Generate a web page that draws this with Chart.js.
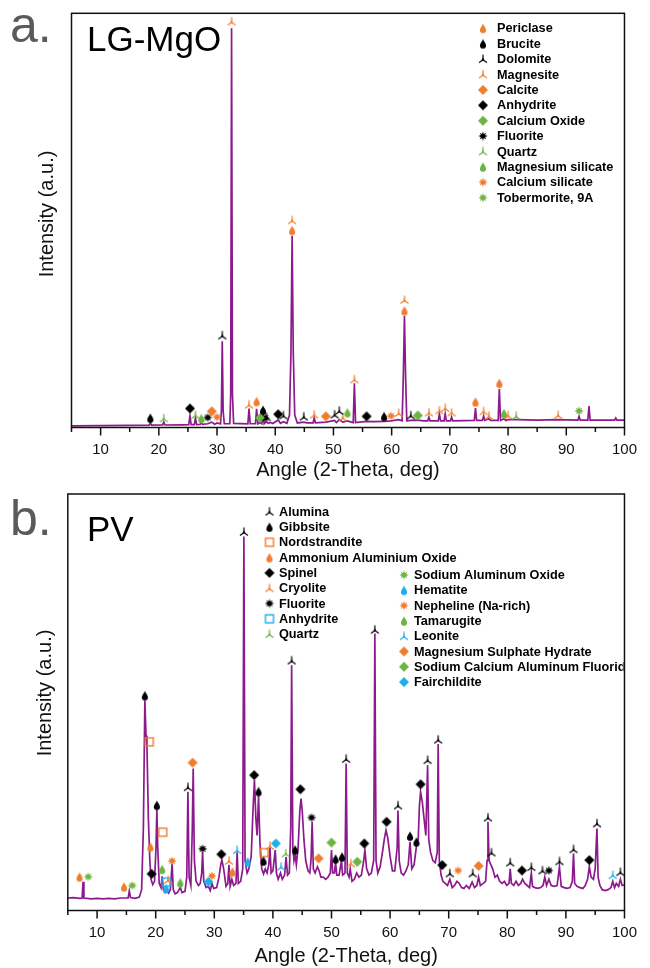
<!DOCTYPE html>
<html>
<head>
<meta charset="utf-8">
<script src="https://cdn.jsdelivr.net/npm/chart.js"></script>
<style>
html, body { margin: 0; padding: 0; background: #fff; }
canvas { display: block; }
</style>
</head>
<body>
<canvas id="chartA" width="650" height="484"></canvas>
<canvas id="chartB" width="650" height="484"></canvas>
<script>
// x axis ticks (2-theta)
var xTicks = [10, 20, 30, 40, 50, 60, 70, 80, 90, 100];

// ---- a. LG-MgO trace [angle, intensity]
var traceA = [
  [5,0.4],[10,0.45],[15,0.5],[18.35,0.55],[18.55,1.1],[18.75,0.55],[20.65,0.6],[20.85,1.3],[21.05,0.6],[24,0.65],
  [25.15,0.7],[25.35,2.8],[25.55,0.7],[26.1,0.7],[26.3,2.3],[26.5,0.7],[27.1,0.75],[27.3,1.2],[27.5,0.75],[28.4,0.9],
  [29.1,1.3],[29.6,0.8],[30.0,1.1],[30.6,0.85],[30.75,4],[30.9,20.8],[31.05,4],[31.25,0.9],[32.2,0.9],[32.35,8],
  [32.5,96.4],[32.65,8],[32.85,1.0],[35.3,0.9],[35.5,4.6],[35.7,0.9],[36.6,0.9],[36.8,4.5],[37.0,0.9],[37.4,1.2],
  [37.7,0.9],[37.9,3.1],[38.1,0.9],[38.5,1.4],[38.8,1.0],[39.2,1.2],[39.6,0.95],[40.5,1.8],[40.9,1.0],[41.4,1.4],
  [42.0,1.0],[42.45,3],[42.7,18],[42.9,46.3],[43.1,18],[43.35,3],[43.8,1.1],[44.9,1.3],[45.5,1.1],[46.5,1.1],
  [46.7,2.3],[46.9,1.1],[48.7,1.3],[50.2,1.7],[50.5,1.2],[51.0,1.9],[51.6,1.3],[52.4,1.6],[53.4,1.2],[53.6,10.7],
  [53.8,1.2],[55.7,1.5],[57,1.4],[58.7,1.5],[59.9,1.6],[61.2,1.9],[61.8,1.6],[62.0,12],[62.2,26.9],[62.4,12],
  [62.6,1.6],[63.3,1.7],[64.5,1.8],[65.5,1.6],[66.2,1.6],[66.4,2.5],[66.6,1.6],[68.0,1.6],[68.2,3.3],[68.4,1.6],
  [69.0,1.6],[69.2,3.3],[69.4,1.6],[70.1,1.6],[70.3,2.5],[70.5,1.6],[74.2,1.7],[74.4,4.7],[74.6,1.7],[75.6,1.7],
  [75.8,2.8],[76.0,1.7],[76.7,2.1],[77.0,1.7],[78.3,1.7],[78.5,9.3],[78.7,1.7],[79.3,2.1],[79.6,1.7],[80.0,1.9],
  [81.4,1.9],[85,1.8],[88.6,1.9],[92.0,1.8],[92.2,2.7],[92.4,1.8],[93.7,1.8],[93.9,5.2],[94.1,1.8],[98.3,1.8],
  [98.5,2.3],[98.7,1.8],[100,1.8]
];

// ---- a. phase markers [angle, intensity]
var periclaseA = [[36.8,6.3],[42.9,47.6],[62.2,28.2],[74.4,6.2],[78.5,10.7]];
var bruciteA = [[18.55,2.3],[37.9,4.2],[58.7,2.7]];
var dolomiteA = [[30.9,22.2],[38.5,2.5],[41.4,2.9],[44.9,2.6],[50.2,3.1],[51.0,4.0],[63.3,2.9]];
var magnesiteA = [[32.5,98.0],[35.5,5.5],[42.9,50.0],[46.7,3.1],[51.6,2.4],[53.6,11.6],[61.2,3.5],[62.2,30.8],
  [66.4,3.6],[68.2,4.1],[69.2,4.7],[70.3,3.6],[75.8,3.9],[76.7,2.8],[80.0,2.9],[88.6,3.0]];
var calciteA = [[29.1,3.9],[48.7,2.7]];
var anhydriteA = [[25.35,4.6],[40.5,3.2],[55.7,2.7]];
var calciumOxideA = [[37.4,2.3],[64.5,2.9]];
var fluoriteA = [[28.4,2.4],[38.3,2.3]];
var quartzA = [[20.85,2.2],[26.3,3.0],[81.4,2.8]];
var mgSilicateA = [[27.3,2.2],[52.4,3.6],[79.3,3.4]];
var caSilicateA = [[30.0,2.5],[59.9,2.8]];
var tobermoriteA = [[92.2,4.0]];

// ---- b. PV trace [angle, intensity]
var traceB = [
  [5,3.0],[6,3.1],[7,2.9],[7.45,3.0],[7.6,6.9],[7.75,3.0],[9,2.8],[10,2.9],[11,2.8],[12,2.9],[13,2.8],[14,3.0],
  [15.3,3.0],[15.5,4.7],[15.7,3.1],[16.5,2.9],[17.2,3.2],[17.6,5],[17.9,20],[18.15,50.5],[18.35,42],[18.5,40],
  [18.75,22],[19.0,12],[19.2,7.5],[19.5,6.2],[19.8,7],[20.05,15],[20.2,24.1],[20.35,15],[20.6,6.5],[20.9,5.5],
  [21.1,8.2],[21.3,5],[21.6,4.3],[21.9,4.8],[22.2,4.2],[22.5,5.0],[22.8,11.3],[23.0,5],[23.3,4.0],[23.7,4.3],
  [24.2,5.5],[24.5,4.3],[25.0,4.6],[25.3,8],[25.5,28.5],[25.7,8],[26.0,6],[26.25,20],[26.4,34.1],[26.6,12],
  [26.9,7],[27.3,6],[27.6,6.5],[27.85,9],[28.0,14.0],[28.2,7],[28.6,5.5],[29.0,5.8],[29.3,4.8],[29.6,6.5],
  [29.9,5.3],[30.4,5.5],[30.8,8],[31.1,11],[31.3,12.1],[31.6,10],[32.0,5.8],[32.3,6.5],[32.5,11],[32.7,5.8],
  [33.0,7.5],[33.3,6],[33.7,6.5],[33.9,14],[34.1,6.5],[34.5,7],[34.85,10],[35.05,89.8],[35.25,12],[35.6,9],
  [35.9,10],[36.3,13],[36.6,24],[36.85,31.3],[37.1,22],[37.3,18],[37.55,27.5],[37.8,16],[38.1,10],[38.4,8.8],
  [38.7,10],[39.0,9],[39.3,11],[39.5,15],[39.7,9],[40.0,9.5],[40.4,14.5],[40.6,9],[40.9,7.5],[41.3,9],
  [41.6,7.5],[42.0,8.5],[42.25,12.8],[42.5,8.5],[42.8,9],[43.05,20],[43.2,58.9],[43.4,15],[43.6,12],[43.8,13.5],
  [44.0,11],[44.3,15],[44.6,24],[44.8,26.9],[45.0,24],[45.3,17],[45.6,12],[46.0,9.5],[46.3,9],[46.5,12],
  [46.7,21.3],[46.9,10],[47.2,9],[47.6,10.5],[47.9,9.5],[48.2,8],[48.6,8],[49.0,7.5],[49.4,8],[49.8,9],
  [50.0,14.5],[50.2,9],[50.5,9],[50.7,11.5],[50.9,8.5],[51.3,8.5],[51.7,12],[51.9,8.5],[52.3,9],[52.5,35.3],
  [52.7,9],[53.0,8],[53.2,10],[53.5,7],[53.9,7.5],[54.3,9],[54.7,8],[55.1,8.5],[55.5,12],[55.7,14.5],
  [56.0,10],[56.4,8.5],[56.8,9],[57.2,12],[57.4,66.5],[57.6,12],[57.9,9],[58.3,10.5],[58.7,14],[59.0,17],
  [59.3,19.3],[59.6,17.5],[60.0,13],[60.4,9.5],[60.8,9.5],[61.2,15],[61.35,24],[61.55,12],[61.9,9],[62.3,8.5],
  [62.7,9.5],[63.1,11],[63.4,16.5],[63.7,10],[64.1,11],[64.5,15.5],[64.8,17],[65.0,25],[65.2,28.5],[65.5,26],
  [65.8,22],[66.1,18],[66.4,34.9],[66.6,17],[66.9,14],[67.3,12],[67.7,11.5],[68.05,14],[68.2,40],[68.4,12],
  [68.7,8.5],[69.0,7],[69.4,6.5],[69.8,6],[70.2,7.5],[70.6,5.5],[71.0,6],[71.4,7],[71.8,6.5],[72.2,5.5],
  [72.6,5.3],[73.0,6],[73.5,5.3],[74.0,6.8],[74.4,5.5],[74.8,6],[75.1,8],[75.4,6],[75.9,6.5],[76.3,7],
  [76.55,12],[76.7,21.3],[76.9,12],[77.2,11],[77.5,10],[77.9,8],[78.3,8.5],[78.7,7],[79.1,6.5],[79.5,7],
  [79.9,6],[80.3,6.5],[80.5,10],[80.7,6.5],[81.1,6],[81.5,7],[81.9,6],[82.3,6.5],[82.6,7.5],[83.0,6.5],
  [83.4,6],[83.8,5.5],[84.1,9],[84.3,5.8],[84.7,5.5],[85.2,5.3],[85.7,5.5],[86.1,6],[86.4,8],[86.7,6],
  [87.1,7.5],[87.5,6],[88.0,5.8],[88.5,6],[88.9,10.5],[89.2,5.8],[89.7,5.5],[90.2,5.3],[90.7,5.5],[91.1,7],
  [91.3,13.7],[91.5,6.5],[91.9,5.8],[92.4,5.5],[92.9,5.3],[93.3,6],[93.7,7.5],[94.0,10.5],[94.3,8],[94.7,7.5],
  [95.0,10],[95.3,19.7],[95.5,8],[95.8,6],[96.2,5],[96.7,4.8],[97.2,5],[97.7,5.5],[98.0,7],[98.3,5.5],
  [98.6,6.5],[99.0,5.8],[99.3,7.5],[99.6,6],[100,6.2]
];

// ---- b. phase markers [angle, intensity]
var aluminaB = [[25.5,29.6],[35.05,90.9],[43.2,60.0],[52.5,36.4],[57.4,67.4],[61.35,25.2],[66.4,36.1],[68.2,41.0],
  [70.2,8.9],[74.1,8.9],[76.7,22.3],[77.3,13.9],[80.5,11.5],[84.1,10.4],[86.0,9.6],[88.9,11.8],[91.3,14.7],[95.3,20.9],[99.3,9.2]];
var gibbsiteB = [[18.15,51.6],[20.2,25.3],[37.55,28.6],[38.4,11.9],[43.8,14.6],[50.7,12.4],[51.8,12.9],[63.4,17.9],[64.5,16.5]];
var nordstranditeB = [[18.9,40.5],[21.2,18.8],[38.5,13.9]];
var ammoniumB = [[7.0,8.1],[14.6,5.7],[19.1,15.3],[33.1,9.3]];
var spinelB = [[19.3,8.8],[31.2,13.5],[36.8,32.5],[44.7,29.1],[55.6,16.1],[59.4,21.3],[65.2,30.3],[68.9,10.9],[82.5,9.6],[94.0,12.1]];
var cryoliteB = [[22.1,7.3],[32.5,11.9],[39.5,15.5],[53.3,11.3]];
var fluoriteB = [[28.0,14.8],[46.6,22.3],[87.1,9.6]];
var anhydriteB = [[21.8,6.8]];
var quartzB = [[42.2,13.7]];
var sodiumAlOxideB = [[8.5,8.1],[16.0,6.0]];
var hematiteB = [[21.8,5.3],[35.7,11.7]];
var nephelineB = [[22.8,11.9],[29.6,8.3],[71.6,9.6]];
var tamarugiteB = [[21.1,9.9],[24.2,6.7]];
var leoniteB = [[33.9,14.5],[41.4,10.5],[98.0,8.5]];
var mgSulphateB = [[26.3,35.5],[47.8,12.5],[75.1,10.7]];
var scafB = [[50.0,16.3],[54.4,11.7]];
var fairchilditeB = [[29.0,6.9],[40.5,16.1]];

var ORANGE = '#f07d2e', BLACK = '#000000', GREEN = '#6cb443', BLUE = '#1cb0ea', PURPLE = '#8c1a8c';
var FONT = "'Liberation Sans', Arial, sans-serif";

function makeMarker(shape, color) {
    var c = document.createElement('canvas');
    c.width = 12; c.height = 12;
    var g = c.getContext('2d');
    var cx = 6, cy = 6;
    g.fillStyle = color;
    g.strokeStyle = color;
    g.beginPath();
    if (shape == 'drop') {
        var r = 3.1, by = cy + 1.7;
        g.moveTo(cx, cy - 4.8);
        g.bezierCurveTo(cx + 0.7, cy - 2.6, cx + r, by - 2, cx + r, by);
        g.arc(cx, by, r, 0, Math.PI);
        g.bezierCurveTo(cx - r, by - 2, cx - 0.7, cy - 2.6, cx, cy - 4.8);
        g.fill();
    } else if (shape == 'diamond') {
        g.moveTo(cx, cy - 5); g.lineTo(cx + 5, cy); g.lineTo(cx, cy + 5); g.lineTo(cx - 5, cy);
        g.closePath(); g.fill();
    } else if (shape == 'tri') {
        g.lineWidth = 1.2;
        g.moveTo(cx, cy - 4.5); g.lineTo(cx, cy + 0.8);
        g.moveTo(cx - 4, cy + 3.6); g.lineTo(cx, cy + 0.8); g.lineTo(cx + 4, cy + 3.6);
        g.stroke();
        g.beginPath();
        g.moveTo(cx, cy - 1.6); g.lineTo(cx + 1.7, cy + 1.6); g.lineTo(cx - 1.7, cy + 1.6);
        g.closePath(); g.fill();
    } else if (shape == 'star') {
        for (var i = 0; i < 16; i++) {
            var rr = i % 2 ? 2.3 : 4.7;
            var a = i * Math.PI / 8 - Math.PI / 2;
            if (i == 0) g.moveTo(cx + rr * Math.cos(a), cy + rr * Math.sin(a));
            else g.lineTo(cx + rr * Math.cos(a), cy + rr * Math.sin(a));
        }
        g.closePath(); g.fill();
    } else if (shape == 'square') {
        g.lineWidth = 1.4;
        g.strokeRect(cx - 4, cy - 4, 8, 8);
    }
    return c;
}

var phasesA = [
    { name: 'Periclase', shape: 'drop', color: ORANGE, pts: periclaseA },
    { name: 'Brucite', shape: 'drop', color: BLACK, pts: bruciteA },
    { name: 'Dolomite', shape: 'tri', color: BLACK, pts: dolomiteA },
    { name: 'Magnesite', shape: 'tri', color: ORANGE, pts: magnesiteA },
    { name: 'Calcite', shape: 'diamond', color: ORANGE, pts: calciteA },
    { name: 'Anhydrite', shape: 'diamond', color: BLACK, pts: anhydriteA },
    { name: 'Calcium Oxide', shape: 'diamond', color: GREEN, pts: calciumOxideA },
    { name: 'Fluorite', shape: 'star', color: BLACK, pts: fluoriteA },
    { name: 'Quartz', shape: 'tri', color: GREEN, pts: quartzA },
    { name: 'Magnesium silicate', shape: 'drop', color: GREEN, pts: mgSilicateA },
    { name: 'Calcium silicate', shape: 'star', color: ORANGE, pts: caSilicateA },
    { name: 'Tobermorite, 9A', shape: 'star', color: GREEN, pts: tobermoriteA }
];

var phasesB = [
    { name: 'Alumina', shape: 'tri', color: BLACK, pts: aluminaB },
    { name: 'Gibbsite', shape: 'drop', color: BLACK, pts: gibbsiteB },
    { name: 'Nordstrandite', shape: 'square', color: ORANGE, pts: nordstranditeB },
    { name: 'Ammonium Aluminium Oxide', shape: 'drop', color: ORANGE, pts: ammoniumB },
    { name: 'Spinel', shape: 'diamond', color: BLACK, pts: spinelB },
    { name: 'Cryolite', shape: 'tri', color: ORANGE, pts: cryoliteB },
    { name: 'Fluorite', shape: 'star', color: BLACK, pts: fluoriteB },
    { name: 'Anhydrite', shape: 'square', color: BLUE, pts: anhydriteB },
    { name: 'Quartz', shape: 'tri', color: GREEN, pts: quartzB },
    { name: 'Sodium Aluminum Oxide', shape: 'star', color: GREEN, pts: sodiumAlOxideB },
    { name: 'Hematite', shape: 'drop', color: BLUE, pts: hematiteB },
    { name: 'Nepheline (Na-rich)', shape: 'star', color: ORANGE, pts: nephelineB },
    { name: 'Tamarugite', shape: 'drop', color: GREEN, pts: tamarugiteB },
    { name: 'Leonite', shape: 'tri', color: BLUE, pts: leoniteB },
    { name: 'Magnesium Sulphate Hydrate', shape: 'diamond', color: ORANGE, pts: mgSulphateB },
    { name: 'Sodium Calcium Aluminum Fluoride', shape: 'diamond', color: GREEN, pts: scafB },
    { name: 'Fairchildite', shape: 'diamond', color: BLUE, pts: fairchilditeB }
];

// frame, ticks, titles and legend drawn on top of the chart
var deco = {
    id: 'deco',
    afterDraw: function (chart, args, o) {
        var ctx = chart.ctx, a = chart.chartArea, xs = chart.scales.x;
        ctx.save();
        ctx.strokeStyle = '#111';
        ctx.lineWidth = 1.5;
        ctx.strokeRect(a.left, a.top, a.right - a.left, a.bottom - a.top);
        ctx.beginPath();
        for (var v = 5; v <= 100; v += 5) {
            var px = xs.getPixelForValue(v);
            ctx.moveTo(px, a.bottom);
            ctx.lineTo(px, a.bottom + (v % 10 == 0 ? 8 : 4.5));
        }
        ctx.stroke();

        ctx.fillStyle = '#111';
        ctx.textAlign = 'center';
        ctx.textBaseline = 'middle';
        ctx.font = '20px ' + FONT;
        ctx.fillText('Angle (2-Theta, deg)', (a.left + a.right) / 2, o.xTitleY);
        ctx.save();
        ctx.translate(o.yTitleX, o.yTitleY);
        ctx.rotate(-Math.PI / 2);
        ctx.fillText('Intensity (a.u.)', 0, 0);
        ctx.restore();

        ctx.textAlign = 'left';
        ctx.textBaseline = 'alphabetic';
        ctx.fillStyle = '#5a5a5a';
        ctx.font = '50px ' + FONT;
        ctx.fillText(o.panel, 10, o.panelY);
        ctx.fillStyle = '#000';
        ctx.font = '35px ' + FONT;
        ctx.fillText(o.name, 87, o.nameY);

        ctx.save();
        ctx.beginPath();
        ctx.rect(a.left, a.top, a.right - a.left - 1, a.bottom - a.top);
        ctx.clip();
        ctx.font = 'bold 12.7px ' + FONT;
        ctx.textBaseline = 'middle';
        o.columns.forEach(function (col) {
            col.items.forEach(function (p, i) {
                var y = col.y + i * col.step;
                ctx.drawImage(p.img, col.mx - 6, y - 6);
                ctx.fillText(p.name, col.tx, y + 0.5);
            });
        });
        ctx.restore();
        ctx.restore();
    }
};

function buildChart(id, trace, phases, pad, axisH, decoOpts) {
    var datasets = [{
        data: trace.map(function (p) { return { x: p[0], y: p[1] }; }),
        showLine: true,
        borderColor: PURPLE,
        borderWidth: 1.7,
        pointRadius: 0,
        order: 1
    }];
    phases.forEach(function (p) {
        p.img = makeMarker(p.shape, p.color);
        datasets.push({
            data: p.pts.map(function (q) { return { x: q[0], y: q[1] }; }),
            pointStyle: p.img,
            pointRadius: 5,
            showLine: false,
            order: 0
        });
    });
    return new Chart(document.getElementById(id), {
        type: 'scatter',
        data: { datasets: datasets },
        options: {
            responsive: false,
            animation: false,
            events: [],
            layout: { padding: pad },
            plugins: { legend: { display: false }, tooltip: { enabled: false }, deco: decoOpts },
            scales: {
                x: {
                    type: 'linear', min: 5, max: 100,
                    grid: { display: false, drawTicks: false },
                    border: { display: false },
                    afterFit: function (s) { s.height = axisH; },
                    afterBuildTicks: function (s) { s.ticks = xTicks.map(function (v) { return { value: v }; }); },
                    ticks: {
                        autoSkip: false, maxRotation: 0, padding: 13,
                        color: '#111', font: { family: FONT, size: 15 }
                    }
                },
                y: { display: false, min: 0, max: 100 }
            }
        },
        plugins: [deco]
    });
}

buildChart('chartA', traceA, phasesA, { left: 71.5, right: 13.5, top: 13.3, bottom: 0 }, 56.5, {
    panel: 'a.', panelY: 42, name: 'LG-MgO', nameY: 51,
    xTitleY: 470, yTitleX: 47, yTitleY: 214,
    columns: [{ items: phasesA, mx: 483, tx: 497, y: 28.3, step: 15.4 }]
});

buildChart('chartB', traceB, phasesB, { left: 67.8, right: 15, top: 10, bottom: 0 }, 57.5, {
    panel: 'b.', panelY: 51, name: 'PV', nameY: 56.5,
    xTitleY: 472, yTitleX: 45.5, yTitleY: 209,
    columns: [
        { items: phasesB.slice(0, 9), mx: 269.5, tx: 279, y: 27.7, step: 15.3 },
        { items: phasesB.slice(9), mx: 404, tx: 414, y: 91, step: 15.3 }
    ]
});
</script>
</body>
</html>
